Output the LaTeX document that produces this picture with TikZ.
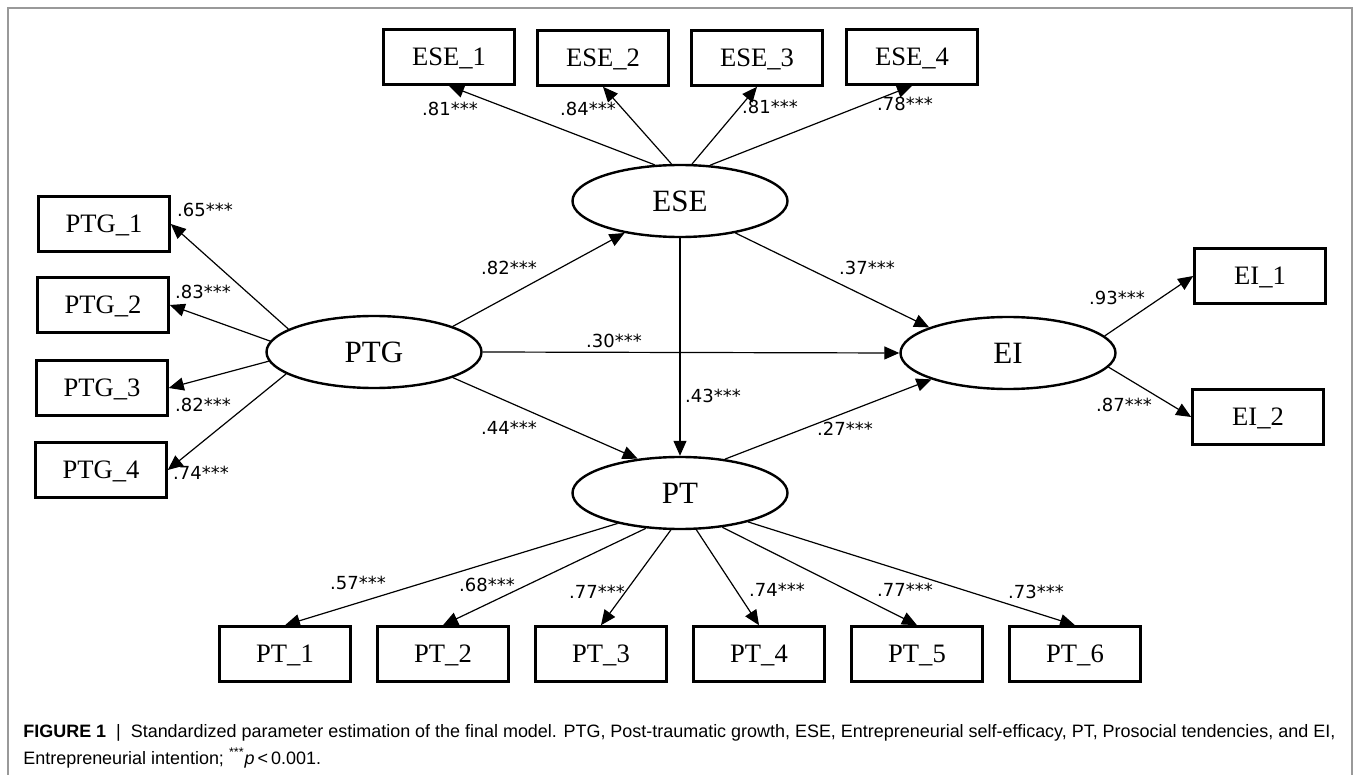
\documentclass[tikz,border=0pt]{standalone}
\usepackage{fontspec}
\setmainfont{Liberation Serif}
\newfontfamily\coeffont{DejaVu Sans}
\newfontfamily\capfont{Liberation Sans}
\usetikzlibrary{shapes.geometric,arrows.meta}

\newcommand\capone{\textbf{FIGURE 1}\ \ |\ \ Standardized parameter estimation of the final model. PTG, Post-traumatic growth, ESE, Entrepreneurial self-efficacy, PT, Prosocial tendencies, and EI,}
\newcommand\captwo{Entrepreneurial intention; \textsuperscript{***}\textit{p}\,<\,0.001.}
\newlength\figcapwd

\begin{document}
\settowidth\figcapwd{\capfont\fontsize{10}{12}\selectfont\capone}
\pgfmathsetmacro\capsize{10*656/\figcapwd}
\begin{tikzpicture}[
      x=0.5pt, y=-0.5pt,
      obs/.style={
        rectangle,
        draw,
        line width=1.3pt,
        minimum width=65.5pt,
        minimum height=27.5pt,
        inner sep=0pt,
        text height=8.8pt,
        text depth=0pt,
        font=\fontsize{13.3}{15}\selectfont
      },
      lat/.style={
        ellipse,
        draw,
        line width=1.2pt,
        minimum width=107.5pt,
        minimum height=36pt,
        inner sep=0pt,
        text height=10.3pt,
        text depth=0pt,
        font=\fontsize{15.5}{17}\selectfont
      },
      coef/.style={
        inner sep=0pt,
        text height=6.5pt,
        text depth=0pt,
        font=\coeffont\fontsize{9}{10}\selectfont
      },
      reg/.style={
        line width=0.6pt,
        -{Triangle[length=7.5pt,width=6.5pt]}
      },
      captxt/.style={
        anchor=base west,
        inner sep=0pt,
        font=\capfont\fontsize{\capsize}{11}\selectfont
      }
    ]
      \useasboundingbox (0,0) rectangle (1356,775);
      \draw[gray!80, line width=0.75pt] (8,775) -- (8,8) -- (1352,8) -- (1352,775);

      \node[lat] (ESE) at (680,201) {ESE};
      \node[lat] (PTG) at (374,352) {PTG};
      \node[lat] (EI) at (1008,353) {EI};
      \node[lat] (PT) at (680,493) {PT};

      \node[obs] (ESE1) at (449,57) {ESE\_1};
      \node[obs] (ESE2) at (603,58) {ESE\_2};
      \node[obs] (ESE3) at (757,58) {ESE\_3};
      \node[obs] (ESE4) at (912,57) {ESE\_4};

      \node[obs] (PTG1) at (104,224) {PTG\_1};
      \node[obs] (PTG2) at (103,305) {PTG\_2};
      \node[obs] (PTG3) at (102,388) {PTG\_3};
      \node[obs] (PTG4) at (101,470) {PTG\_4};

      \node[obs] (EI1) at (1260,276) {EI\_1};
      \node[obs] (EI2) at (1258,417) {EI\_2};

      \node[obs] (PT1) at (285,654) {PT\_1};
      \node[obs] (PT2) at (443,654) {PT\_2};
      \node[obs] (PT3) at (601,654) {PT\_3};
      \node[obs] (PT4) at (759,654) {PT\_4};
      \node[obs] (PT5) at (917,654) {PT\_5};
      \node[obs] (PT6) at (1075,654) {PT\_6};

      \draw[reg] (ESE.125) -- (ESE1.south);
      \draw[reg] (ESE.103) -- (ESE2.south);
      \draw[reg] (ESE.72) -- (ESE3.south);
      \draw[reg] (ESE.50) -- (ESE4.south);

      \draw[reg] (PTG.165) -- (PTG1.east);
      \draw[reg] (PTG.174) -- (PTG2.east);
      \draw[reg] (PTG.185) -- (PTG3.east);
      \draw[reg] (PTG.194) -- (PTG4.east);

      \draw[reg] (EI.10) -- (EI1.west);
      \draw[reg] (EI.352) -- (EI2.west);

      \draw[reg] (PT.206) -- (PT1.north);
      \draw[reg] (PT.226) -- (PT2.north);
      \draw[reg] (PT.256) -- (PT3.north);
      \draw[reg] (PT.294) -- (PT4.north);
      \draw[reg] (PT.321) -- (PT5.north);
      \draw[reg] (PT.337) -- (PT6.north);

      \draw[reg] (PTG.18) -- (ESE.210);
      \draw[reg] (PTG.east) -- (EI.west);
      \draw[reg] (PTG.342) -- (PT.141);
      \draw[reg] (ESE.south) -- (PT.north);
      \draw[reg] (ESE.330) -- (EI.162);
      \draw[reg] (PT.37) -- (EI.199);

      \node[coef] (cESE1) at (450,109) {.81***};
      \node[coef] (cESE2) at (588,109) {.84***};
      \node[coef] (cESE3) at (770,107) {.81***};
      \node[coef] (cESE4) at (905,104) {.78***};

      \node[coef] (cPTG1) at (205,210) {.65***};
      \node[coef] (cPTG2) at (203,292) {.83***};
      \node[coef] (cPTG3) at (203,405) {.82***};
      \node[coef] (cPTG4) at (201,473) {.74***};

      \node[coef] (cEI1) at (1117,298) {.93***};
      \node[coef] (cEI2) at (1124,405) {.87***};

      \node[coef] (cPT1) at (358,583) {.57***};
      \node[coef] (cPT2) at (487,585) {.68***};
      \node[coef] (cPT3) at (597,592) {.77***};
      \node[coef] (cPT4) at (777,590) {.74***};
      \node[coef] (cPT5) at (905,590) {.77***};
      \node[coef] (cPT6) at (1036,592) {.73***};

      \node[coef] (cPTGESE) at (509,268) {.82***};
      \node[coef] (cESEEI) at (867,268) {.37***};
      \node[coef] (cPTGEI) at (614,341) {.30***};
      \node[coef] (cESEPT) at (713,396) {.43***};
      \node[coef] (cPTGPT) at (509,428) {.44***};
      \node[coef] (cPTEI) at (845,429) {.27***};

      \node[captxt] (cap1) at (23,737) {\capone};
      \node[captxt] (cap2) at (23,764) {\captwo};
    \end{tikzpicture}
\end{document}
